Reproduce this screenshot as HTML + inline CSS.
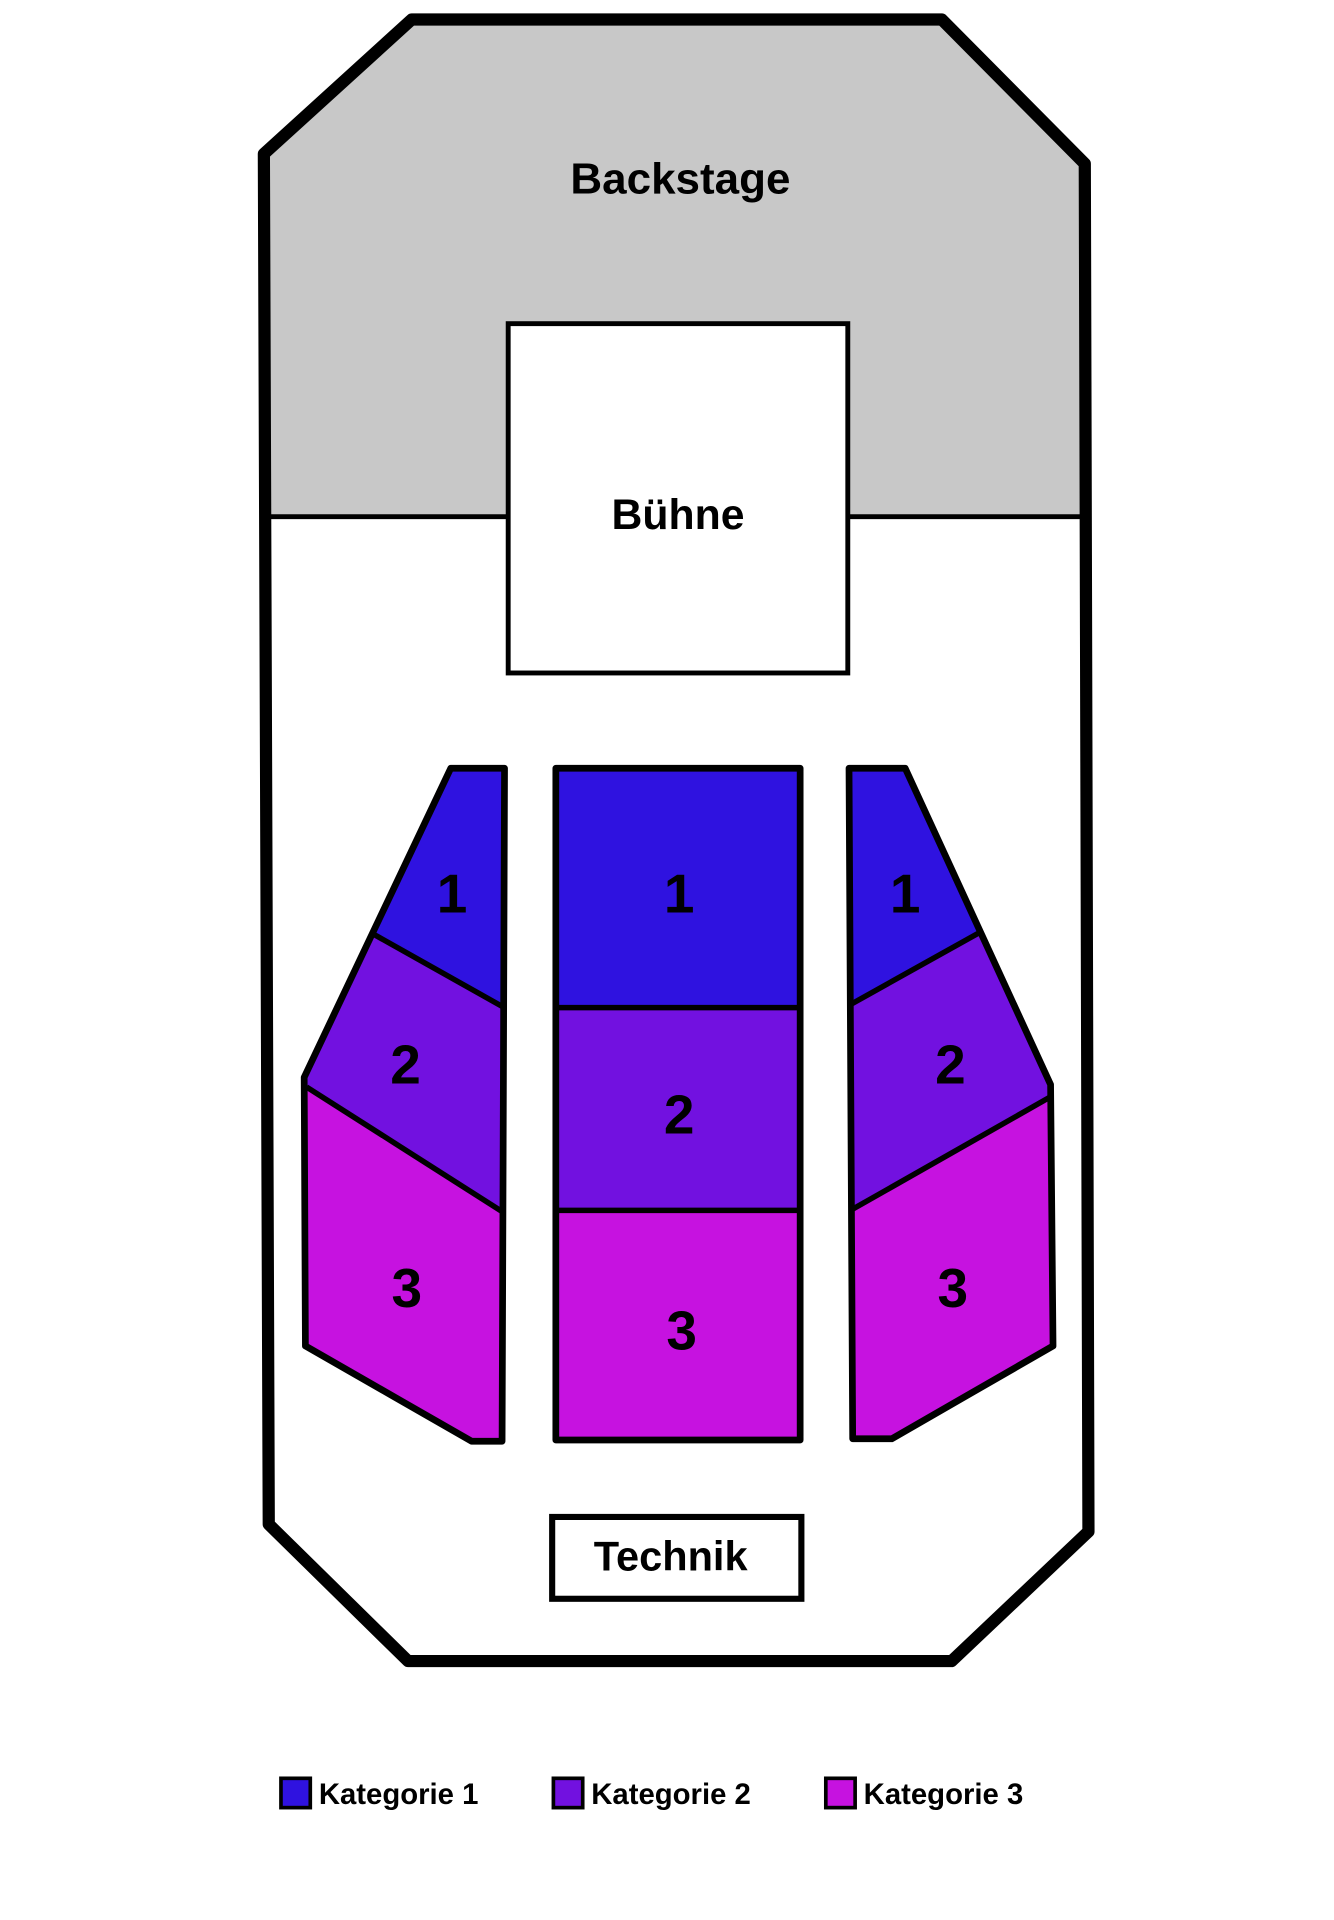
<!DOCTYPE html>
<html><head><meta charset="utf-8"><style>
html,body{margin:0;padding:0;background:#fff;}
svg{display:block;}
text{font-family:"Liberation Sans",sans-serif;font-weight:bold;fill:#000;}
</style></head><body>
<svg width="1334" height="1920" viewBox="0 0 1092 1572" preserveAspectRatio="none" xmlns="http://www.w3.org/2000/svg">
<rect width="1092" height="1572" fill="#fff"/>
<path d="M216,126 L337,16 L771,16 L888,134 L886,422 L220,422 Z" fill="#c8c8c8"/>
<line x1="220" y1="423" x2="416" y2="423" stroke="#000" stroke-width="4"/>
<line x1="694" y1="423" x2="886" y2="423" stroke="#000" stroke-width="4"/>
<path d="M216,126 L337,16 L771,16 L888,134 L891,1254 L779,1360 L334,1360 L220,1248 Z" fill="none" stroke="#000" stroke-width="10" stroke-linejoin="round"/>
<rect x="416" y="265" width="278" height="286" fill="#fff" stroke="#000" stroke-width="4"/>
<text x="555" y="424" font-size="35" text-anchor="middle" dominant-baseline="middle">Bühne</text>
<text x="557" y="149" font-size="36" text-anchor="middle" dominant-baseline="middle">Backstage</text>
<rect x="455" y="629" width="200" height="196" fill="#2f12e0"/>
<rect x="455" y="825" width="200" height="166" fill="#7211e0"/>
<rect x="455" y="991" width="200" height="188" fill="#c612e0"/>
<rect x="455" y="629" width="200" height="550" fill="none" stroke="#000" stroke-width="5.5" stroke-linejoin="round"/>
<line x1="455" y1="825" x2="655" y2="825" stroke="#000" stroke-width="4.5"/>
<line x1="455" y1="991" x2="655" y2="991" stroke="#000" stroke-width="4.5"/>
<path d="M369,629 L413,629 L411,824 L306,765 Z" fill="#2f12e0"/>
<path d="M306,765 L411,824 L411,992 L251,890 L249,882 Z" fill="#7211e0"/>
<path d="M251,890 L411,992 L411,1180 L386,1180 L250,1102 Z" fill="#c612e0"/>
<path d="M369,629 L413,629 L411,1180 L386,1180 L250,1102 L249,882 Z" fill="none" stroke="#000" stroke-width="5.5" stroke-linejoin="round"/>
<line x1="306" y1="765" x2="411" y2="824" stroke="#000" stroke-width="4.5"/>
<line x1="251" y1="890" x2="411" y2="992" stroke="#000" stroke-width="4.5"/>
<path d="M695,629 L741,629 L801,764 L697,822 Z" fill="#2f12e0"/>
<path d="M697,822 L801,764 L860,888 L860,898 L698,990 Z" fill="#7211e0"/>
<path d="M698,990 L860,898 L862,1102 L730,1178 L698,1178 Z" fill="#c612e0"/>
<path d="M695,629 L741,629 L860,888 L862,1102 L730,1178 L698,1178 Z" fill="none" stroke="#000" stroke-width="5.5" stroke-linejoin="round"/>
<line x1="697" y1="822" x2="801" y2="764" stroke="#000" stroke-width="4.5"/>
<line x1="698" y1="990" x2="860" y2="898" stroke="#000" stroke-width="4.5"/>
<g font-size="45" text-anchor="middle">
<text x="370" y="747">1</text><text x="556" y="747">1</text><text x="741" y="747">1</text>
<text x="332" y="887">2</text><text x="556" y="928">2</text><text x="778" y="887">2</text>
<text x="333" y="1070">3</text><text x="558" y="1105">3</text><text x="780" y="1070">3</text>
</g>
<rect x="452" y="1242" width="204" height="67" fill="#fff" stroke="#000" stroke-width="5"/>
<text x="549" y="1277" font-size="34" text-anchor="middle" dominant-baseline="middle">Technik</text>
<rect x="230" y="1456" width="24" height="24" fill="#2f12e0" stroke="#000" stroke-width="3"/>
<text x="261" y="1477" font-size="24">Kategorie 1</text>
<rect x="453" y="1456" width="24" height="24" fill="#7211e0" stroke="#000" stroke-width="3"/>
<text x="484" y="1477" font-size="24">Kategorie 2</text>
<rect x="676" y="1456" width="24" height="24" fill="#c612e0" stroke="#000" stroke-width="3"/>
<text x="707" y="1477" font-size="24">Kategorie 3</text>
</svg>
</body></html>
